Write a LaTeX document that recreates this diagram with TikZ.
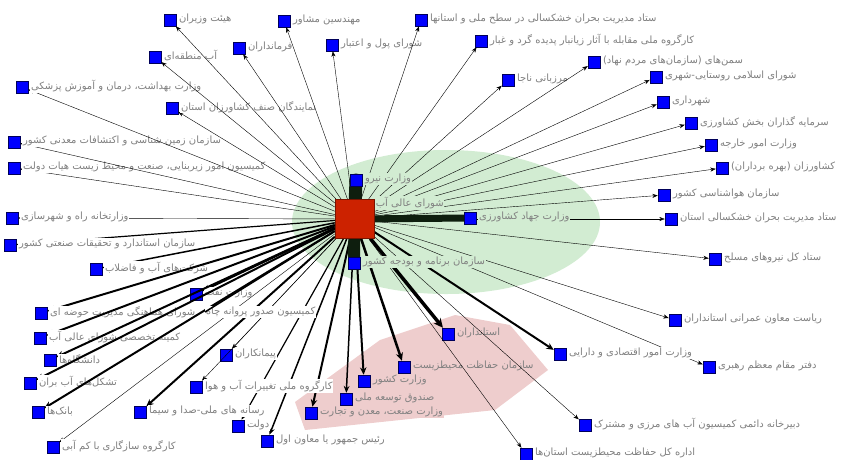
\documentclass[tikz,border=0pt]{standalone}
\usepackage{fontspec}
\newfontfamily\arabicfont[Script=Arabic]{DejaVu Sans}
\TeXXeTstate=1
\usetikzlibrary{arrows.meta}
\definecolor{hubred}{RGB}{204,34,0}
\definecolor{hubedge}{RGB}{120,20,0}
\definecolor{sqedge}{RGB}{0,0,90}
\definecolor{darkg}{RGB}{14,30,14}
\definecolor{zoneg}{RGB}{210,236,210}
\definecolor{zonep}{RGB}{238,205,205}
\begin{document}
\begin{tikzpicture}[x=1pt,y=-1pt,>={Stealth[length=5pt 1.2,width=3.5pt 1.5]},
  sq/.style={draw=sqedge,fill=blue,line width=0.5pt,minimum size=12pt,inner sep=0pt},
  lbl/.style={anchor=west,fill=white,inner sep=0.6pt,text=gray,font=\arabicfont\fontsize{10}{11}\selectfont},
  heavy/.style={draw=darkg,line cap=round}]
\useasboundingbox (0,0) rectangle (850,459);
\fill[zoneg] (446,222) ellipse [x radius=154,y radius=72];
\fill[zonep] (295,402)--(380,340)--(455,315)--(510,325)--(548,370)--(495,410)--(305,430)--cycle;
\node[minimum size=39pt,inner sep=0pt] (hub) at (354.5,219) {};
\foreach \px/\py/\nm/\lw/\bg/\txt in {
  12/218/rah/0.4/white/{وزارتخانه راه و شهرسازی},
  14/168/zirbana/0.4/white/{کمیسیون امور زیربنایی، صنعت و محیط زیست هیات دولت},
  14/142/zamin/0.4/white/{سازمان زمین شناسی و اکتشافات معدنی کشور},
  172/108/namay/0.4/white/{نمایندگان صنف کشاورزان استان},
  22/87/behd/0.4/white/{وزارت بهداشت، درمان و آموزش پزشکی},
  155/57/abm/0.4/white/{آب منطقه‌ای},
  170/20/hv/0.4/white/{هیئت وزیران},
  239/48/farm/0.4/white/{فرمانداران},
  284/21/mohn/0.4/white/{مهندسین مشاور},
  332/45/pool/0.4/white/{شورای پول و اعتبار},
  421/20/stad/0.4/white/{ستاد مدیریت بحران خشکسالی در سطح ملی و استانها},
  481/41/gard/0.4/white/{کارگروه ملی مقابله با آثار زیانبار پدیده گرد و غبار},
  508/80/naja/0.4/white/{مرزبانی ناجا},
  594/62/saman/0.4/white/{سمن‌های (سازمان‌های مردم نهاد)},
  656/77/shora/0.4/white/{شورای اسلامی روستایی-شهری},
  663/102/shahr/0.4/white/{شهرداری},
  691/123/sarm/0.4/white/{سرمایه گذاران بخش کشاورزی},
  711/145/khar/0.4/white/{وزارت امور خارجه},
  722/168/keshav/0.4/white/{کشاورزان (بهره برداران)},
  664/195/hava/0.4/white/{سازمان هواشناسی کشور},
  671/219/stadost/0.4/white/{ستاد مدیریت بحران خشکسالی استان},
  715/259/niru/0.4/white/{ستاد کل نیروهای مسلح},
  675/320/omrani/0.4/white/{ریاست معاون عمرانی استانداران},
  709/367/rahbar/0.4/white/{دفتر مقام معظم رهبری},
  560/354/eghtesad/2/white/{وزارت امور اقتصادی و دارایی},
  448/334/ostandar/3.5/zonep/{استانداران},
  404/367/mohit/2.5/zonep/{سازمان حفاظت محیطزیست},
  585/425/marzi/0.4/white/{دبیرخانه دائمی کمیسیون آب های مرزی و مشترک},
  526/454/edare/0.4/white/{اداره کل حفاظت محیطزیست استان‌ها},
  364/381/keshvar/2/zonep/{وزارت کشور},
  346/399/sandogh/1.5/zonep/{صندوق توسعه ملی},
  311/413/sanat/2/zonep/{وزارت صنعت، معدن و تجارت},
  267/441/rais/1.5/white/{رئیس جمهور یا معاون اول},
  238/426/dolat/1.2/white/{دولت},
  10/245/estandard/1.2/white/{سازمان استاندارد و تحقیقات صنعتی کشور},
  96/269/fazelab/1.5/white/{شرکت‌های آب و فاضلاب},
  196/294/naft/2/white/{وزارت نفت},
  41/313/howze/2/white/{شورای هماهنگی مدیریت حوضه ای},
  40/338/komite/2/white/{کمیته تخصصی شورای عالی آب},
  50/360/daneshgah/2/white/{دانشگاه‌ها},
  30/383/tashakkol/2/white/{تشکل‌های آب بران},
  38/412/bank/2/white/{بانک‌ها},
  226/355/peyman/0.4/white/{پیمانکاران},
  196/387/taghir/0.4/white/{کارگروه ملی تغییرات آب و هوا},
  140/412/resane/2/white/{رسانه های ملی-صدا و سیما},
  53/447/sazgar/0.4/white/{کارگروه سازگاری با کم آبی}}
{
  \node[sq] (\nm) at (\px,\py) {};
  \draw[->,line width=\lw pt] (hub) -- (\nm);
  \node[lbl,fill=\bg] (l\nm) at ([xshift=2pt,yshift=1pt]\nm.east) {\beginR\txt\endR};
}
\node[lbl] (lsodur) at (205,312) {\beginR کمیسیون صدور پروانه چاه\endR};
\draw[line width=1.5pt] (hub) -- (lsodur.west);
\node[lbl,fill=zoneg] (lshoraali) at (375,203) {\beginR شورای عالی آب\endR};
\coordinate (vniru) at (356,180);
\coordinate (jahad) at (470,218);
\coordinate (barname) at (354,263);
\draw[heavy,line width=13pt] (hub.center) -- (vniru);
\draw[heavy,line width=12pt] (hub.center) -- (barname);
\draw[heavy,line width=7pt] (hub.center) -- (jahad);
\node[sq] (svniru) at (vniru) {};
\node[sq] (sjahad) at (jahad) {};
\node[sq] (sbarname) at (barname) {};
\node[lbl,fill=zoneg] (lvniru) at ([xshift=2pt,yshift=1pt]svniru.east) {\beginR وزارت نیرو\endR};
\node[lbl,fill=zoneg] (ljahad) at ([xshift=2pt,yshift=1pt]sjahad.east) {\beginR وزارت جهاد کشاورزی\endR};
\node[lbl,fill=zoneg] (lbarname) at ([xshift=2pt,yshift=1pt]sbarname.east) {\beginR سازمان برنامه و بودجه کشور\endR};
\node[draw=hubedge,fill=hubred,line width=0.8pt,minimum size=39pt,inner sep=0pt] (hubbox) at (hub) {};
\end{tikzpicture}
\end{document}
